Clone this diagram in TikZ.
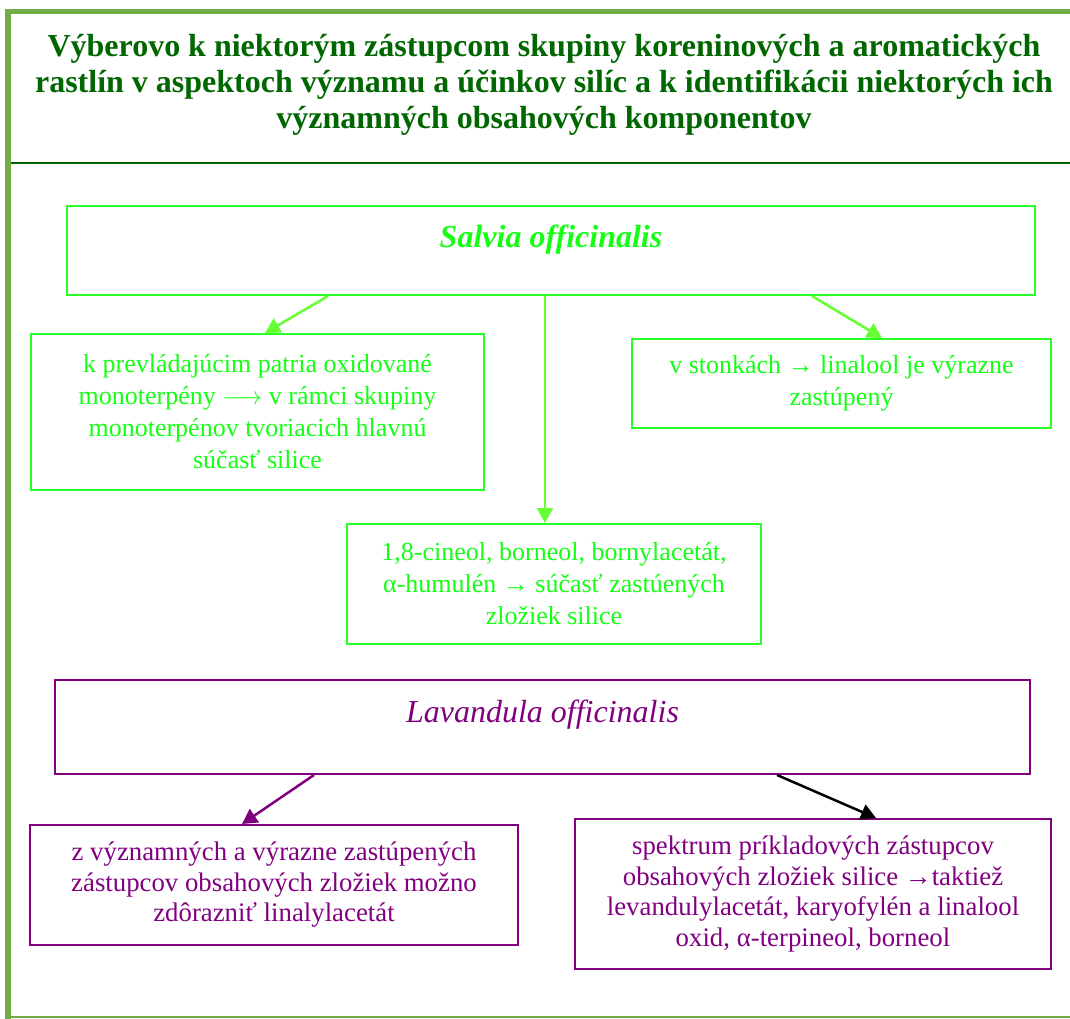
\documentclass[tikz,border=0pt]{standalone}
\usepackage{fontspec}
\setmainfont{Liberation Serif}
\usetikzlibrary{arrows.meta}
\definecolor{frame}{RGB}{112,173,71}
\definecolor{titlegreen}{RGB}{0,102,0}
\definecolor{sepgreen}{RGB}{0,100,0}
\definecolor{boxgreen}{RGB}{40,255,40}
\definecolor{txtgreen}{RGB}{20,255,20}
\definecolor{arrgreen}{RGB}{102,255,51}
\definecolor{purp}{RGB}{128,0,128}
\tikzset{
  gbox/.style={draw=boxgreen, line width=2pt, inner sep=0pt, align=center, text=txtgreen,
     font=\fontsize{26}{32}\selectfont},
  pbox/.style={draw=purp, line width=2pt, inner sep=0pt, align=center, text=purp,
     font=\fontsize{26.8}{30.5}\selectfont},
  garrow/.style={draw=arrgreen, line width=2.5pt, -{Triangle[length=15pt,width=16pt]}},
  parrow/.style={draw=purp, line width=2.5pt, -{Triangle[length=15pt,width=16pt]}},
  karrow/.style={draw=black, line width=2.5pt, -{Triangle[length=15pt,width=16pt]}},
}
\begin{document}
\begin{tikzpicture}[x=1pt,y=-1pt]
\useasboundingbox (0,0) rectangle (1070,1019);
% frame
\fill[frame] (5,9) rectangle (1070,14);
\fill[frame] (5,9) rectangle (11,1019);
\draw[frame, line width=2pt] (5,1017) -- (1070,1017);
\draw[sepgreen, line width=2pt] (11,163) -- (1070,163);
% title
\node[text=titlegreen, align=center, font=\fontsize{32}{36}\selectfont\bfseries] (title) at (544,85)
  {Výberovo k niektorým zástupcom skupiny koreninových a aromatických\\
   rastlín v aspektoch významu a účinkov silíc a k identifikácii niektorých ich\\
   významných obsahových komponentov};
% Salvia
\node[gbox, minimum width=968pt, minimum height=89pt] (salvia) at (551,250.5) {};
\node[text=txtgreen, font=\fontsize{32}{36}\selectfont\bfseries\itshape] (salviat) at (551,240) {Salvia officinalis};
\node[gbox, minimum width=453pt, minimum height=156pt] (boxA) at (257.5,412)
  {k prevládajúcim patria oxidované\\ monoterpény $\longrightarrow$ v rámci skupiny\\ monoterpénov tvoriacich hlavnú\\ súčasť silice};
\node[gbox, minimum width=419pt, minimum height=89pt] (boxB) at (841.5,383.5)
  {v stonkách → linalool je výrazne\\ zastúpený};
\node[gbox, minimum width=414pt, minimum height=120pt] (boxC) at (554,584)
  {1,8-cineol, borneol, bornylacetát,\\ α-humulén → súčasť zastúených\\ zložiek silice};
\draw[garrow] ([xshift=-223pt]salvia.south) -- ([xshift=7.5pt]boxA.north);
\draw[garrow] ([xshift=-6pt]salvia.south) -- ([xshift=-9pt]boxC.north);
\draw[garrow] ([xshift=261pt]salvia.south) -- ([xshift=40.5pt]boxB.north);
% Lavandula
\node[pbox, minimum width=975pt, minimum height=94pt] (lav) at (542.5,727) {};
\node[text=purp, font=\fontsize{32}{36}\selectfont\itshape] (lavt) at (542.5,715) {Lavandula officinalis};
\node[pbox, minimum width=488pt, minimum height=120pt] (boxD) at (274,885)
  {z významných a výrazne zastúpených\\ zástupcov obsahových zložiek možno\\ zdôrazniť linalylacetát};
\node[pbox, minimum width=476pt, minimum height=150pt] (boxE) at (813,894)
  {spektrum príkladových zástupcov\\ obsahových zložiek silice →taktiež\\ levandulylacetát, karyofylén a linalool\\ oxid, α-terpineol, borneol};
\draw[parrow] ([xshift=-228.5pt]lav.south) -- ([xshift=-32pt]boxD.north);
\draw[karrow] ([xshift=234.5pt]lav.south) -- ([xshift=63pt]boxE.north);
\end{tikzpicture}
\end{document}
